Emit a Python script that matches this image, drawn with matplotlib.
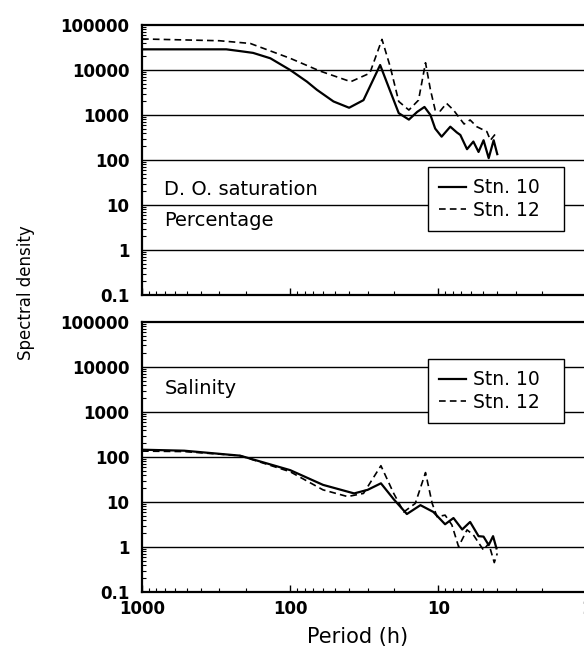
import matplotlib
matplotlib.use("Agg")
import matplotlib.pyplot as plt

# period (h) and spectral density
do_p10 = [1000, 270, 218, 178, 136, 100, 77, 66, 51, 40, 32, 24.7, 21.7, 18.5,
          15.8, 13.9, 12.4, 11.3, 10.5, 9.5, 8.3, 7.5, 7.1, 6.4, 5.8, 5.35, 4.95,
          4.57, 4.23, 4.0]
do_s10 = [28800, 28800, 26300, 24000, 18200, 10000, 5500, 3630, 2000, 1450, 2140,
          12900, 4270, 1100, 790, 1170, 1510, 1000, 500, 330, 550, 410, 360, 174,
          257, 151, 275, 110, 275, 135]

do_p12 = [1000, 300, 186, 100, 63, 39, 29, 24, 21.1, 18.5, 15.8, 13.6, 12.2, 11.3,
          10.5, 9.7, 8.8, 7.9, 6.7, 6.1, 5.5, 4.7, 4.45, 4.0]
do_s12 = [49000, 44700, 38900, 18200, 9500, 5500, 8500, 47900, 11700, 2000, 1290,
          2140, 14500, 3630, 1290, 1230, 1820, 1290, 630, 776, 550, 427, 275, 427]

sal_p10 = [1000, 520, 218, 100, 60, 37, 30, 24.4, 20, 16.3, 13.2, 10.8, 9.0, 7.9,
           6.9, 6.1, 5.35, 4.95, 4.57, 4.27, 4.05]
sal_s10 = [145, 138, 107, 51, 24, 15.5, 18.6, 26, 11.5, 5.4, 8.5, 6.0, 3.2, 4.4,
           2.45, 3.6, 1.74, 1.7, 1.1, 1.74, 0.93]

sal_p12 = [1000, 520, 218, 100, 60, 41, 32, 24.4, 20, 17.1, 14.3, 12.2, 11.0, 10.2,
           9.0, 8.1, 7.3, 6.4, 5.8, 4.95, 4.57, 4.19, 4.0]
sal_s12 = [135, 132, 107, 47, 18.6, 13.2, 15.5, 64, 15.5, 6.0, 9.3, 45, 9.3, 4.7,
           5.1, 3.1, 1.02, 2.4, 1.86, 0.85, 1.2, 0.45, 0.72]

panels = [("D. O. saturation\nPercentage", do_p10, do_s10, do_p12, do_s12, 0.5433),
          ("Salinity", sal_p10, sal_s10, sal_p12, sal_s12, 0.0836)]

fig = plt.figure(figsize=(5.84, 6.46), dpi=100)
fig.text(0.045, 0.547, "Spectral density", rotation=90, ha="center",
         va="center", fontsize=12)
fig.text(0.612, 0.014, "Period (h)", ha="center", va="center", fontsize=15)

for k, (name, p10, s10, p12, s12, bottom) in enumerate(panels):
    ax = fig.add_axes([0.2432, bottom, 0.761, 0.418])
    ax.set_xscale("log")
    ax.set_yscale("log")
    ax.set_xlim(1000, 1)
    ax.set_ylim(0.1, 100000)
    for y in [1, 10, 100, 1000, 10000]:
        ax.axhline(y, color="black", lw=1.0, zorder=1)
    ax.plot(p10, s10, color="black", lw=1.6, label="Stn. 10", zorder=3)
    ax.plot(p12, s12, color="black", lw=1.2, ls=(0, (4, 2.5)), label="Stn. 12",
            zorder=3)
    for sp in ax.spines.values():
        sp.set_linewidth(1.6)
    ax.set_yticks([0.1, 1, 10, 100, 1000, 10000, 100000])
    ax.set_yticklabels(["0.1", "1", "10", "100", "1000", "10000", "100000"],
                       fontsize=12, fontweight="bold")
    ax.set_xticks([1000, 100, 10, 1])
    if k == 1:
        ax.set_xticklabels(["1000", "100", "10", "1"], fontsize=12,
                           fontweight="bold")
    else:
        ax.set_xticklabels([])
    ax.tick_params(which="both", direction="in", top=False, right=False)
    ax.tick_params(which="major", length=5, width=1)
    ax.tick_params(axis="x", which="major", pad=6)
    ax.tick_params(which="minor", length=3, width=0.8)
    ax.tick_params(axis="y", which="major", length=0, pad=9)
    ax.text(0.05, 0.333 if k == 0 else 0.752, name, transform=ax.transAxes,
            fontsize=14, va="center", linespacing=1.75)
    leg = ax.legend(loc="upper left",
                    bbox_to_anchor=(0.6436, 0.374 if k == 0 else 0.763, 0.306, 0.1),
                    mode="expand", fontsize=13.5, frameon=True, fancybox=False,
                    framealpha=1, edgecolor="black", handlelength=1.4,
                    handletextpad=0.4, borderpad=0.6, labelspacing=0.2,
                    borderaxespad=0)
    leg.get_frame().set_linewidth(1.0)

fig.savefig("out.png", dpi=100)
